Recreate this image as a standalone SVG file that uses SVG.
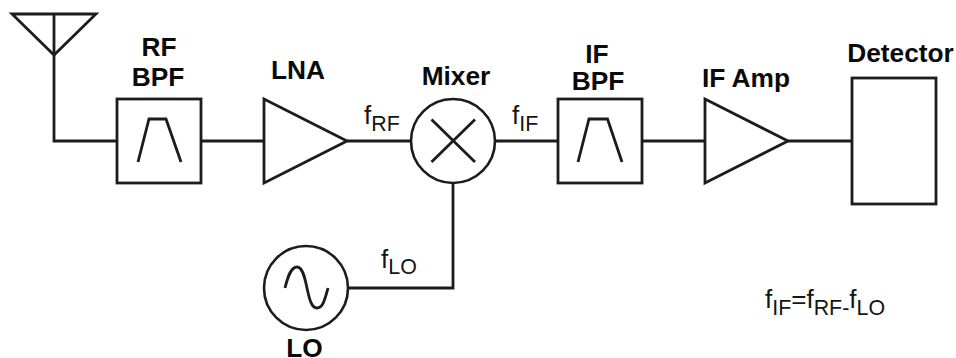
<svg xmlns="http://www.w3.org/2000/svg" width="956" height="358" viewBox="0 0 956 358">
<style>
.s{fill:none;stroke:#1c1c1c;stroke-width:2.800;stroke-linejoin:miter;stroke-linecap:butt}
.w{fill:#fff;stroke:#1c1c1c;stroke-width:2.800}
.c{fill:#fff;stroke:#1c1c1c;stroke-width:2.600}
.b{font:bold 26.300px "Liberation Sans",Arial,sans-serif;fill:#0a0a0a;text-anchor:middle}
.n{font:26px "Liberation Sans",Arial,sans-serif;fill:#151515}
.u{font-size:21.400px}
</style>
<rect width="956" height="358" fill="#fff"/>
<g id="connectors">
<path class="s" d="M54 14V141H117"/>
<path class="s" d="M201 141H264"/>
<path class="s" d="M347 141H411"/>
<path class="s" d="M495 141H558"/>
<path class="s" d="M642 141H705"/>
<path class="s" d="M788 141H852"/>
<path class="s" d="M348 288H453V183"/>
</g>
<g id="antenna"><path class="s" d="M12 14H96L54 55Z"/></g>
<g id="rf-bpf">
<rect class="w" x="117" y="99" width="84" height="84"/>
<path class="s" d="M138 162L149 119H166L181 162"/>
<text class="b" x="159" y="56">RF</text>
<text class="b" x="158" y="86">BPF</text>
</g>
<g id="lna">
<path class="w" d="M264 99V183L347 141Z"/>
<text class="b" x="298" y="79">LNA</text>
</g>
<g id="mixer">
<circle class="c" cx="453" cy="141" r="42"/>
<path class="s" d="M431.500 119.500L475 162M475 119.500L431.500 162"/>
<text class="b" x="456" y="85">Mixer</text>
</g>
<g id="if-bpf">
<rect class="w" x="558" y="99" width="84" height="84"/>
<path class="s" d="M578 162L589 119H607.500L622 162"/>
<text class="b" x="597" y="63">IF</text>
<text class="b" x="598" y="90">BPF</text>
</g>
<g id="if-amp">
<path class="w" d="M705 99V183L788 141Z"/>
<text class="b" x="746" y="87">IF Amp</text>
</g>
<g id="detector">
<rect class="w" x="852" y="78" width="84" height="126"/>
<text class="b" x="900.500" y="62">Detector</text>
</g>
<g id="lo">
<circle class="c" cx="306" cy="288" r="42"/>
<path class="s" d="M285 288C288 276 291 267 297 267C303 267 305 279 307 288C309 297 311 308 317 308C323 308 325 299 328 288"/>
<text class="b" x="304.500" y="356.500">LO</text>
</g>
<g id="labels">
<text class="n" x="364" y="124">f<tspan class="u" dy="7">RF</tspan></text>
<text class="n" x="512" y="124">f<tspan class="u" dy="7">IF</tspan></text>
<text class="n" x="381" y="268">f<tspan class="u" dy="6">LO</tspan></text>
<text class="n" x="765" y="308">f<tspan class="u" dy="7">IF</tspan><tspan dy="-7">=f</tspan><tspan class="u" dy="7">RF-</tspan><tspan dy="-7">f</tspan><tspan class="u" dy="7">LO</tspan></text>
</g>
</svg>
